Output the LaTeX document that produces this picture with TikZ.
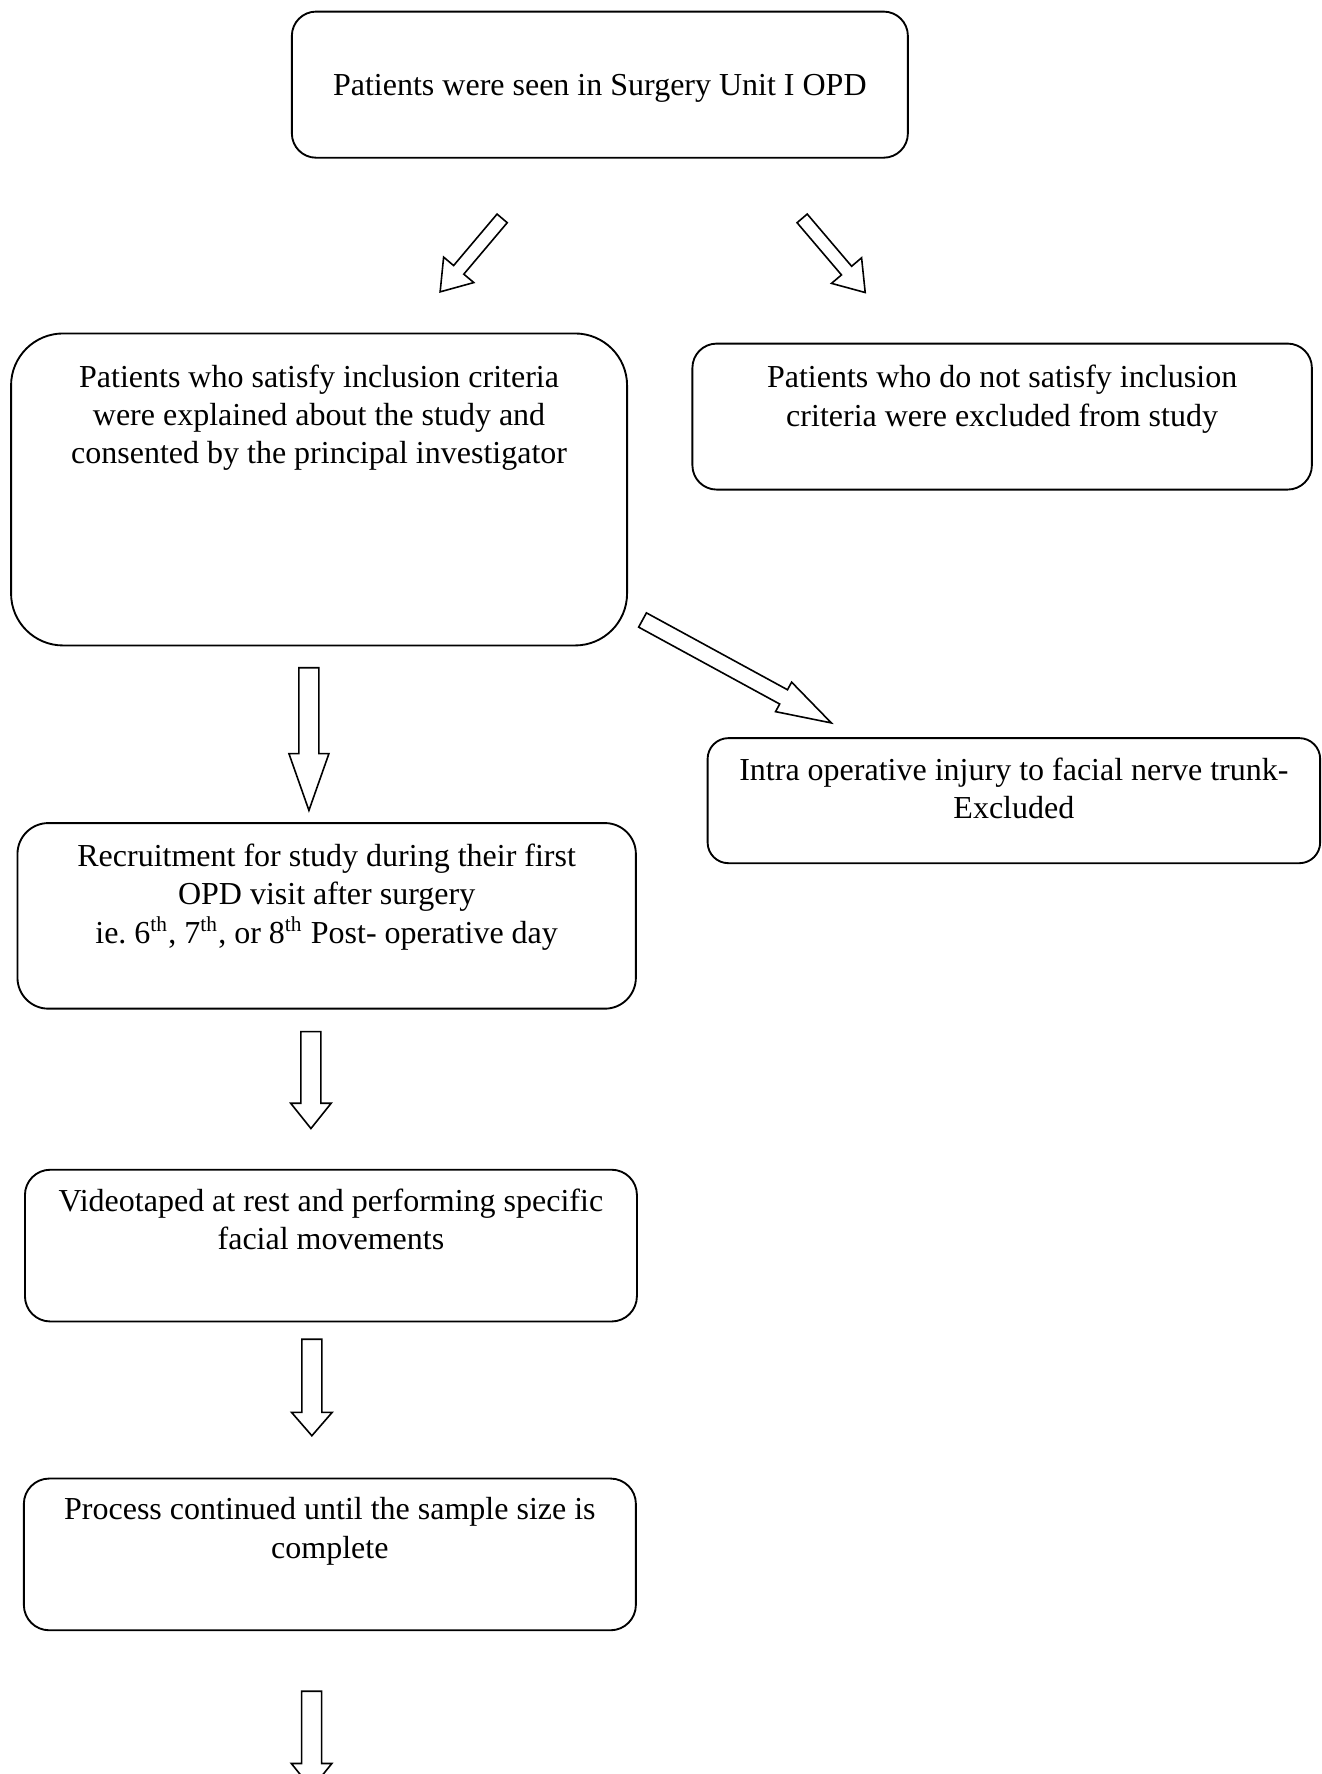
\documentclass[tikz,border=0pt]{standalone}
\usepackage{fontspec}
\setmainfont{Liberation Serif}
\usepackage{tikz}
\usetikzlibrary{positioning, calc}

% hollow block arrow: {tail}{tip}{shaft half width}{head half width}{head length}
\newcommand{\blockarrow}[5]{%
  \coordinate (ba-base) at ($(#2)!#5!(#1)$);
  \draw[hollow] ($(#1)!#3!90:(#2)$) -- ($(ba-base)!#3!90:(#2)$)
    -- ($(ba-base)!#4!90:(#2)$) -- (#2)
    -- ($(ba-base)!#4!-90:(#2)$) -- ($(ba-base)!#3!-90:(#2)$)
    -- ($(#1)!#3!-90:(#2)$) -- cycle;
}

\begin{document}
\begin{tikzpicture}[
  flow/.style={draw, line width=0.7pt, align=flush center, text width=223pt,
               inner xsep=4pt, inner ysep=4pt, text height=11.9pt,
               font=\fontsize{12pt}{14.4pt}\selectfont\frenchspacing},
  hollow/.style={draw, fill=white, line width=0.6pt, line join=miter}
]
  \useasboundingbox (0,0) rectangle (495.4pt,-665.25pt);

  % Entry
  \node[flow, anchor=north west, rounded corners=9.1pt, text height=27.5pt, text depth=19.3pt]
    (seen) at (109.1pt,-4pt) {Patients were seen in Surgery Unit I OPD};

  % Screening
  \node[flow, below right=65.2pt and -105.3pt of seen.south west, rounded corners=19.5pt,
        text height=16.1pt, text depth=92.9pt] (incl)
    {Patients who satisfy inclusion criteria\\ were explained about the study and\\
     consented by the principal investigator};
  \node[flow, below right=3.8pt and 23.8pt of incl.north east, text width=224.3pt,
        rounded corners=9.1pt, text height=12.6pt, text depth=34.15pt] (excl)
    {Patients who do not satisfy inclusion\\ criteria were excluded from study};
  \node[flow, below right=92.5pt and 5.7pt of excl.south west, text width=221.7pt,
        rounded corners=7.8pt, text depth=27pt] (injury)
    {Intra operative injury to facial nerve trunk-\\ Excluded};

  % Follow-up
  \node[flow, below right=65.9pt and 2.4pt of incl.south west, text width=223.9pt,
        rounded corners=11.6pt, text height=12.3pt, text depth=49.3pt] (recruit)
    {Recruitment for study during their first\\ OPD visit after surgery\\
     ie. 6\textsuperscript{th}, 7\textsuperscript{th}, or 8\textsuperscript{th} Post- operative day};
  \node[flow, below right=59.7pt and 2.8pt of recruit.south west, text width=221.5pt,
        rounded corners=9.5pt, text height=11.5pt, text depth=37.4pt] (video)
    {Videotaped at rest and performing specific\\ facial movements};
  \node[flow, below right=58.2pt and -0.4pt of video.south west, text width=221.5pt,
        rounded corners=9.5pt, text height=11.5pt, text depth=37.4pt] (sample)
    {Process continued until the sample size is\\ complete};

  % Arrow ends
  \coordinate (a1-tail) at ($(seen.south)+(-36.65pt,-22.4pt)$);
  \coordinate (a1-tip)  at ($(seen.south)+(-59.9pt,-49.95pt)$);
  \coordinate (a2-tail) at ($(seen.south)+(75.85pt,-22.4pt)$);
  \coordinate (a2-tip)  at ($(seen.south)+(99.5pt,-50.2pt)$);
  \coordinate (a3-tail) at ($(incl.south east)+(5.45pt,9.9pt)$);
  \coordinate (a3-tip)  at ($(incl.south east)+(76.25pt,-28.7pt)$);
  \coordinate (a4-tail) at ($(incl.south)+(-3.8pt,-8pt)$);
  \coordinate (a4-tip)  at ($(incl.south)+(-3.8pt,-61.5pt)$);
  \coordinate (a5-tail) at ($(recruit.south)+(-5.9pt,-8.25pt)$);
  \coordinate (a5-tip)  at ($(recruit.south)+(-5.9pt,-44.6pt)$);
  \coordinate (a6-tail) at ($(video.south)+(-7.15pt,-6.3pt)$);
  \coordinate (a6-tip)  at ($(video.south)+(-7.15pt,-42.5pt)$);
  \coordinate (a7-tail) at ($(sample.south)+(-6.85pt,-22.5pt)$);
  \coordinate (a7-tip)  at ($(sample.south)+(-6.85pt,-59pt)$);

  % Edges
  \blockarrow{a1-tail}{a1-tip}{2.5pt}{7.4pt}{10.8pt}
  \blockarrow{a2-tail}{a2-tip}{2.5pt}{7.4pt}{10.8pt}
  \blockarrow{a3-tail}{a3-tip}{3.05pt}{6.3pt}{20.4pt}
  \blockarrow{a4-tail}{a4-tip}{3.75pt}{7.5pt}{21.3pt}
  \blockarrow{a5-tail}{a5-tip}{3.75pt}{7.6pt}{9.5pt}
  \blockarrow{a6-tail}{a6-tip}{3.75pt}{7.6pt}{8.75pt}
  \blockarrow{a7-tail}{a7-tip}{3.75pt}{7.6pt}{9.4pt}
\end{tikzpicture}
\end{document}
